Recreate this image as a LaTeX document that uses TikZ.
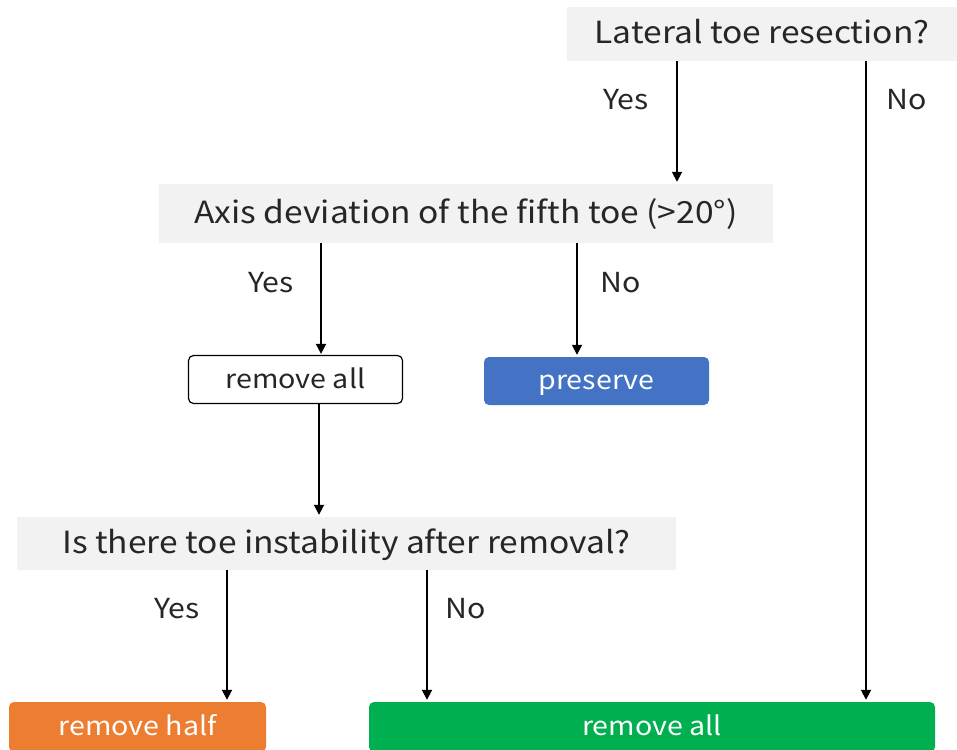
\documentclass[tikz,border=0pt]{standalone}
\usepackage{fontspec}
\setmainfont{Noto Sans CJK JP}[FakeStretch=1.1]
\usetikzlibrary{arrows.meta}
\definecolor{qgray}{HTML}{F2F2F2}
\definecolor{txt}{HTML}{262626}
\definecolor{pblue}{HTML}{4472C4}
\definecolor{porange}{HTML}{ED7D31}
\definecolor{pgreen}{HTML}{00B050}
\tikzset{
  qbox/.style={fill=qgray, draw=none, inner sep=0pt, text=txt, text height=24pt, text depth=4pt, font=\fontsize{30.5}{34}\selectfont},
  rbox/.style={rounded corners=5pt, inner sep=0pt, text height=20pt, text depth=3pt, font=\fontsize{26}{30}\selectfont},
  lbl/.style={text=txt, inner sep=0pt, text height=20pt, text depth=2pt, font=\fontsize{27.5}{30}\selectfont},
  arr/.style={-{Triangle[width=10pt,length=10pt]}, line width=1.8pt, black},
}
\begin{document}
\begin{tikzpicture}[x=1pt,y=-1pt]
\useasboundingbox (0,0) rectangle (957,749);
\fill[white] (0,0) rectangle (957,749);

\node[qbox, minimum width=390pt, minimum height=54pt] (q1) at (762,34) {Lateral toe resection?};
\node[qbox, minimum width=614pt, minimum height=59pt] (q2) at (466,213.5) {Axis deviation of the fifth toe (>20°)};
\node[rbox, draw=black, line width=1.2pt, fill=white, text=txt, minimum width=214pt, minimum height=48pt] (ra) at (295.5,379.5) {remove all};
\node[rbox, fill=pblue, text=white, minimum width=225pt, minimum height=48pt] (pr) at (596.5,381) {preserve};
\node[qbox, minimum width=659pt, minimum height=53pt] (q3) at (346.5,543.5) {Is there toe instability after removal?};
\node[rbox, fill=porange, text=white, minimum width=257pt, minimum height=50pt] (rh) at (137.5,727) {remove half};
\node[rbox, fill=pgreen, text=white, minimum width=566pt, minimum height=50pt] (rg) at (652,727) {remove all};

\coordinate (x1) at (677,0);
\coordinate (x2) at (866,0);
\coordinate (x3) at (321,0);
\coordinate (x4) at (577,0);
\coordinate (x5) at (319,0);
\coordinate (x6) at (227,0);
\coordinate (x7) at (427,0);

\draw[arr, shorten >=2pt] (q1.south -| x1) -- (q2.north -| x1);
\draw[arr, shorten >=2pt] (q1.south -| x2) -- (rg.north -| x2);
\draw[arr, shorten >=1pt] (q2.south -| x3) -- (ra.north -| x3);
\draw[arr, shorten >=2pt] (q2.south -| x4) -- (pr.north -| x4);
\draw[arr, shorten >=2pt] (ra.south -| x5) -- (q3.north -| x5);
\draw[arr, shorten >=2pt] (q3.south -| x6) -- (rh.north -| x6);
\draw[arr, shorten >=2pt] (q3.south -| x7) -- (rg.north -| x7);

\node[lbl] (l1) at (626,101) {Yes};
\node[lbl] (l2) at (907,101) {No};
\node[lbl] (l3) at (271,283) {Yes};
\node[lbl] (l4) at (621,283) {No};
\node[lbl] (l5) at (177,609) {Yes};
\node[lbl] (l6) at (466,609) {No};
\end{tikzpicture}
\end{document}
